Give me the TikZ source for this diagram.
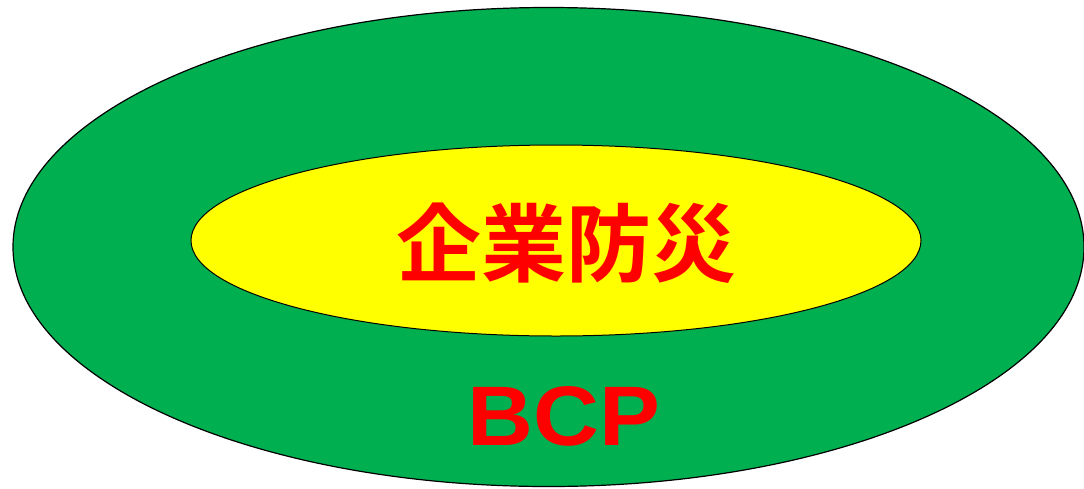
\documentclass[tikz,border=0pt]{standalone}
\usepackage{fontspec}
\usepackage{graphicx}
\setmainfont{Liberation Sans}
\newfontfamily\cjk{Noto Sans CJK JP Bold}
\definecolor{ringgreen}{RGB}{0,176,80}
\definecolor{coreyellow}{RGB}{255,255,0}
\definecolor{textred}{RGB}{255,0,0}
\begin{document}
\begin{tikzpicture}[x=1pt,y=-1pt,
  outerring/.style={fill=ringgreen,draw=black,line width=1.2pt},
  innercore/.style={fill=coreyellow,draw=black,line width=1pt},
  bigtext/.style={text=textred,inner sep=0pt}]
\useasboundingbox (0,0) rectangle (1084,488);
\begin{scope}
\clip (0,0) rectangle (1084,488);
\path[outerring] (548.5,247) ellipse [x radius=535.5, y radius=239.5];
\end{scope}
\path[innercore] (556,240.5) ellipse [x radius=365, y radius=95.5];
\node[bigtext] (core) at (566.5,243) {\cjk\fontsize{85}{85}\selectfont 企業防災};
\node[bigtext,anchor=base] (bcp) at (564,445.5) {\scalebox{1.08}[1]{\bfseries\fontsize{84.5}{84.5}\selectfont BCP}};
\end{tikzpicture}
\end{document}
